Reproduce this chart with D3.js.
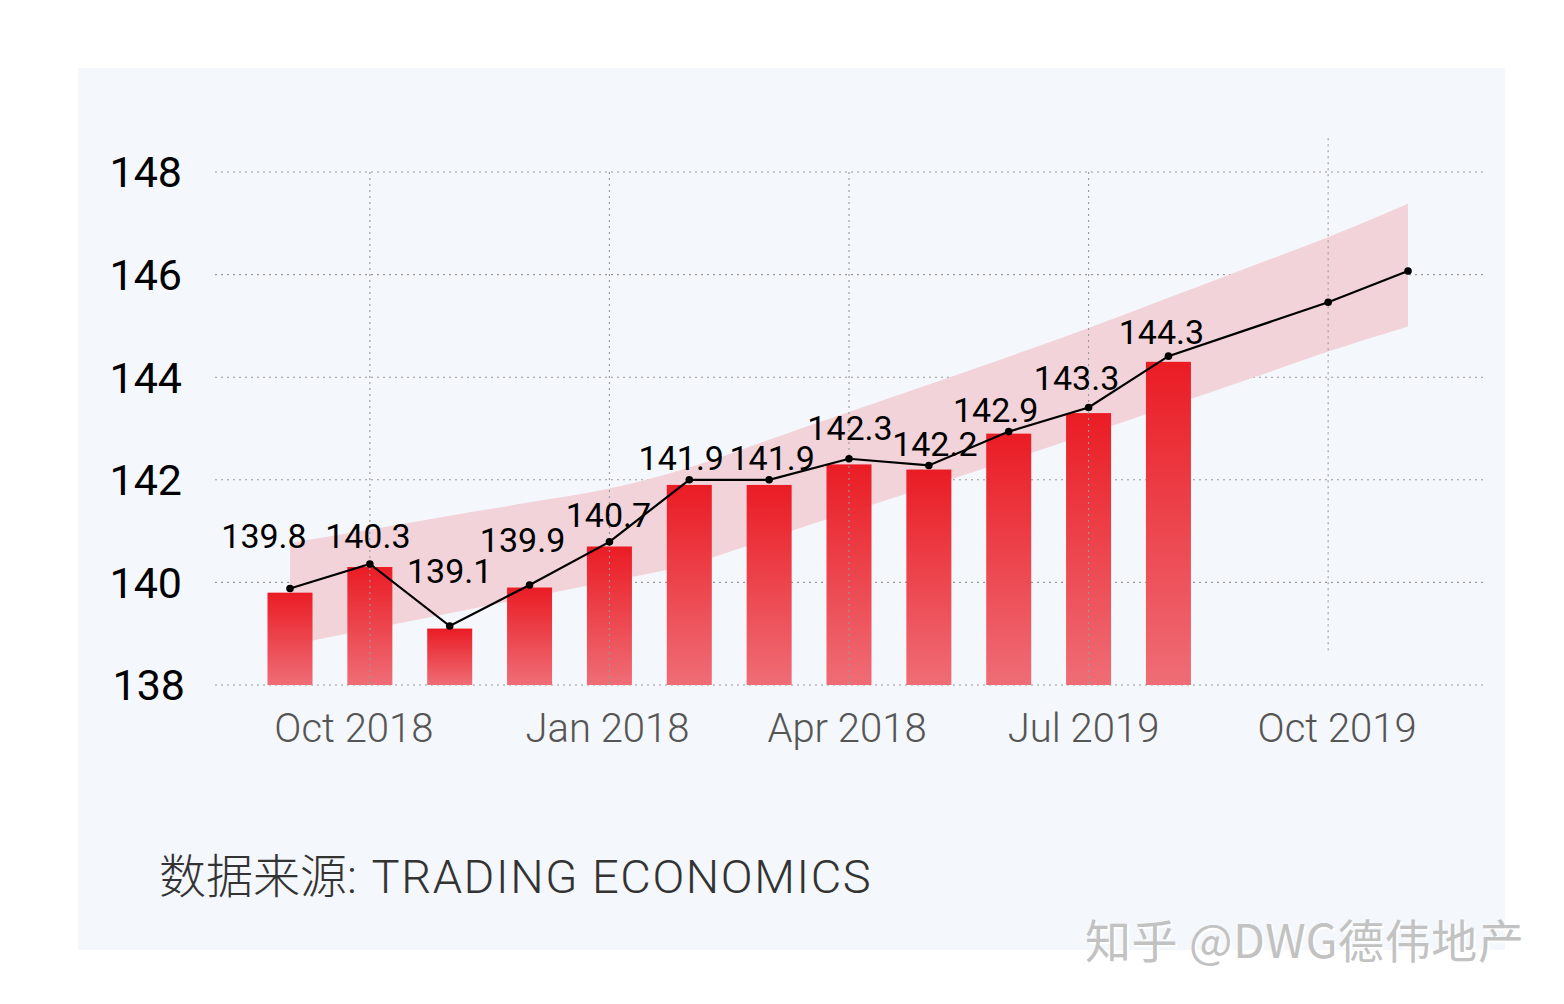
<!DOCTYPE html>
<html><head><meta charset="utf-8">
<script src="https://cdn.jsdelivr.net/npm/d3@7"></script>
<style>html,body{margin:0;padding:0;background:#fff;}svg{display:block;}</style>
</head><body>
<script>
// ---------- data ----------
const categories = ['Sep 2018','Oct 2018','Nov 2018','Dec 2018','Jan 2019','Feb 2019','Mar 2019','Apr 2019','May 2019','Jun 2019','Jul 2019','Aug 2019','Sep 2019','Oct 2019','Nov 2019'];
const barValues = [139.8,140.3,139.1,139.9,140.7,141.9,141.9,142.3,142.2,142.9,143.3,144.3,null,null,null];
const lineValues = [139.88,140.36,139.15,139.95,140.79,142.0,142.0,142.41,142.28,142.94,143.41,144.41,null,145.46,146.07];
const bandUpper = [140.77,141.03,141.30,141.56,141.83,142.24,142.78,143.32,143.86,144.40,144.96,145.55,146.14,146.73,147.38];
const bandLower = [138.78,139.09,139.40,139.71,140.02,140.35,140.86,141.37,141.87,142.38,142.90,143.43,143.96,144.50,144.99];
const yTicks = [138,140,142,144,146,148];
const xTickCats = ['Oct 2018','Jan 2019','Apr 2019','Jul 2019','Oct 2019'];
const xTickLabels = ['Oct 2018','Jan 2018','Apr 2018','Jul 2019','Oct 2019'];
const sourceText = ['数据来源', ': TRADING ECONOMICS'];
const watermark = '知乎 @DWG德伟地产';

// ---------- layout ----------
const W = 1564, H = 1004;
const labelNudge = [[-26,-41],[-2,-16],[0,-43],[-7,-33],[-1,-15],[-8,-10],[3,-10],[1,-19],[6,-9],[-13,-10],[-12,-17],[-7,-12]];
const tickDx = [-16,-2,-2,-5,9];

const svg = d3.select('body').append('svg').attr('width',W).attr('height',H);
const defs = svg.append('defs');
const grad = defs.append('linearGradient').attr('id','barGrad').attr('x1',0).attr('y1',0).attr('x2',0).attr('y2',1);
grad.append('stop').attr('offset','0%').attr('stop-color','#ea1c24');
grad.append('stop').attr('offset','100%').attr('stop-color','#ef6d76');

// panel
svg.append('rect').attr('x',78).attr('y',68).attr('width',1427).attr('height',882).attr('fill','#f4f7fb');

const x = d3.scalePoint().domain(categories).range([290,1408]);
const y = d3.scaleLinear().domain([138,148]).range([685,172]);
const barW = 45;

// horizontal grid
svg.append('g').selectAll('line').data(yTicks).join('line')
  .attr('x1',215).attr('x2',1483)
  .attr('y1',d=>y(d)).attr('y2',d=>y(d))
  .attr('stroke','#9a9a9a').attr('stroke-width',1.1).attr('stroke-dasharray','2,4');

// y labels
svg.append('g').selectAll('text').data(yTicks).join('text')
  .attr('x',d=> d===138 ? 185 : 182).attr('y',d=>y(d)).attr('dy','0.36em')
  .attr('text-anchor','end')
  .attr('font-family','Roboto, "Liberation Sans", sans-serif')
  .attr('font-size',43).attr('fill','#000')
  .text(d=>d);

// band
const idx = d3.range(categories.length);
const area = d3.area()
  .x(i=>x(categories[i]))
  .y0(i=>y(bandLower[i]))
  .y1(i=>y(bandUpper[i]))
  .curve(d3.curveMonotoneX);
svg.append('path').datum(idx).attr('d',area).attr('fill','#f2d3d9');

// bars
svg.append('g').selectAll('rect').data(idx.filter(i=>barValues[i]!=null)).join('rect')
  .attr('x',i=>x(categories[i])-barW/2)
  .attr('y',i=>y(barValues[i]))
  .attr('width',barW)
  .attr('height',i=>y(138)-y(barValues[i]))
  .attr('fill','url(#barGrad)');

// vertical grid (on top of bars)
svg.append('g').selectAll('line').data(xTickCats).join('line')
  .attr('x1',d=>x(d)).attr('x2',d=>x(d))
  .attr('y1',(d,i)=> i===xTickCats.length-1 ? y(148.66) : y(148))
  .attr('y2',(d,i)=> i===xTickCats.length-1 ? y(138.64) : y(138))
  .attr('stroke','#9a9a9a').attr('stroke-width',1.1).attr('stroke-dasharray','2,4');

// x labels
svg.append('g').selectAll('text').data(xTickCats).join('text')
  .attr('x',(d,i)=>x(d)+tickDx[i]).attr('y',742)
  .attr('text-anchor','middle')
  .attr('font-family','Roboto, "Liberation Sans", sans-serif')
  .attr('font-weight',300)
  .attr('font-size',40).attr('fill','#555')
  .text((d,i)=>xTickLabels[i]);

// line
const linePts = idx.filter(i=>lineValues[i]!=null);
const line = d3.line().x(i=>x(categories[i])).y(i=>y(lineValues[i]));
svg.append('path').datum(linePts).attr('d',line)
  .attr('fill','none').attr('stroke','#000').attr('stroke-width',2.2);
svg.append('g').selectAll('circle').data(linePts).join('circle')
  .attr('cx',i=>x(categories[i])).attr('cy',i=>y(lineValues[i])).attr('r',3.8).attr('fill','#000');

// value labels
svg.append('g').selectAll('text').data(idx.filter(i=>barValues[i]!=null)).join('text')
  .attr('x',i=>x(categories[i])+labelNudge[i][0])
  .attr('y',i=>y(lineValues[i])+labelNudge[i][1])
  .attr('text-anchor','middle')
  .attr('font-family','Roboto, "Liberation Sans", sans-serif')
  .attr('font-size',34).attr('fill','#000')
  .text(i=>barValues[i].toFixed(1));

// source
const src = svg.append('text').attr('x',159).attr('y',893)
  .attr('font-family','Roboto, "Noto Sans CJK SC", sans-serif')
  .attr('font-weight',300).attr('fill','#333').attr('font-size',47);
src.append('tspan').attr('font-family','"Noto Sans CJK SC", sans-serif').text(sourceText[0]);
src.append('tspan').attr('letter-spacing',1.6).text(sourceText[1]);

// watermark
const wm = svg.append('g').attr('font-family','"Noto Sans CJK SC", sans-serif').attr('font-size',46).attr('letter-spacing',0.6);
wm.append('text').attr('x',1087).attr('y',960).attr('fill','#ffffff').text(watermark);
wm.append('text').attr('x',1085).attr('y',958).attr('fill','#c2c2c2').text(watermark);
</script>
</body></html>
